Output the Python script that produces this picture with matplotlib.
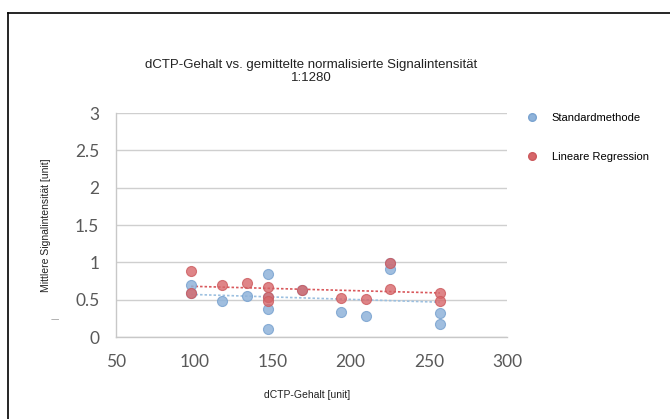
import numpy as np
import matplotlib
matplotlib.use('Agg')
import matplotlib.pyplot as plt
from matplotlib.lines import Line2D

# Messwerte: dCTP-Gehalt und mittlere Signalintensität
std_x = [98, 98, 118, 134, 147, 147, 147, 147, 169, 194, 210, 225, 225, 257, 257]
std_y = [0.70, 0.59, 0.48, 0.55, 0.85, 0.53, 0.38, 0.11, 0.63, 0.335, 0.28, 0.99, 0.91, 0.32, 0.18]
reg_x = [98, 98, 118, 134, 147, 147, 147, 169, 194, 210, 225, 225, 257, 257]
reg_y = [0.89, 0.59, 0.69, 0.72, 0.67, 0.53, 0.48, 0.63, 0.52, 0.505, 0.99, 0.64, 0.585, 0.48]

x_ticks = [50, 100, 150, 200, 250, 300]
y_ticks = [0, 0.5, 1, 1.5, 2, 2.5, 3]
y_ticklabels = ['0', '0.5', '1', '1.5', '2', '2.5', '3']

blue = '#8fb3da'
blue_edge = '#7aa3d0'
red = '#d7676a'
red_edge = '#cc5a5e'

fig = plt.figure(figsize=(6.7, 4.19), dpi=100)
ax = fig.add_axes([0.1731, 0.1957, 0.5836, 0.5346])

ax.scatter(std_x, std_y, s=52, color=blue, edgecolor=blue_edge, linewidth=0.8, alpha=0.85, zorder=3)
ax.scatter(reg_x, reg_y, s=52, color=red, edgecolor=red_edge, linewidth=0.8, alpha=0.8, zorder=4)

# lineare Trendlinien
for xs, ys, c in [(std_x, std_y, '#9cc0e0'), (reg_x, reg_y, '#d9585c')]:
    m, b = np.polyfit(xs, ys, 1)
    xx = np.array([min(xs), max(xs)])
    ax.plot(xx, m * xx + b, linestyle=(0, (1.5, 1.2)), color=c, linewidth=1.2, zorder=2)

ax.set_xlim(50, 300)
ax.set_ylim(0, 3)
ax.set_xticks(x_ticks)
ax.set_yticks(y_ticks)
ax.set_yticklabels(y_ticklabels)
ax.grid(axis='y', color='#cfcfcf', linewidth=1)
ax.set_axisbelow(True)
for s in ['top', 'right']:
    ax.spines[s].set_visible(False)
for s in ['left', 'bottom']:
    ax.spines[s].set_color('#c8c8c8')
    ax.spines[s].set_linewidth(1)
ax.tick_params(length=0, labelsize=12.5, labelcolor='#595959', pad=12)
for lab in ax.get_xticklabels() + ax.get_yticklabels():
    lab.set_fontfamily('Lato')

ax.set_title('dCTP-Gehalt vs. gemittelte normalisierte Signalintensität\n1:1280',
             fontsize=9.5, family='Liberation Sans', color='#222222', pad=23, linespacing=1.1)
fig.text(0.458, 0.058, 'dCTP-Gehalt [unit]', fontsize=7.5, family='Liberation Sans',
         color='#222222', ha='center', va='center')
fig.text(0.068, 0.463, 'Mittlere Signalintensität [unit]', fontsize=7.5, family='Liberation Sans',
         color='#222222', ha='center', va='center', rotation=90)
fig.text(0.082, 0.236, '—', fontsize=6, color='#9a9a9a', ha='center', va='center')

# Legende
handles = [Line2D([], [], marker='o', linestyle='', markersize=5.5, color=blue, markeredgecolor=blue_edge),
           Line2D([], [], marker='o', linestyle='', markersize=5.5, color=red, markeredgecolor=red_edge)]
fig.legend(handles, ['Standardmethode', 'Lineare Regression'], loc='upper left',
           bbox_to_anchor=(0.762, 0.755), frameon=False, handletextpad=0.8,
           labelspacing=2.6, prop={'family': 'Liberation Sans', 'size': 8})

# Rahmen links und oben
fig.add_artist(Line2D([0.012, 0.012], [0.0, 0.969], color='black', linewidth=1.2, transform=fig.transFigure))
fig.add_artist(Line2D([0.012, 1.0], [0.969, 0.969], color='black', linewidth=1.2, transform=fig.transFigure))

fig.savefig('out.png', dpi=100)
